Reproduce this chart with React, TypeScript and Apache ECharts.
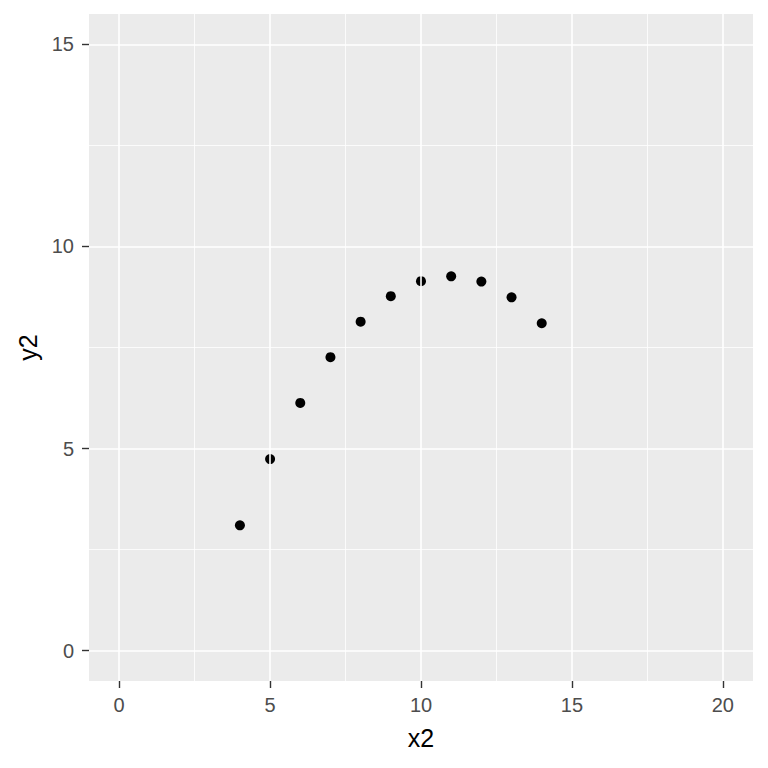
import React, { useEffect, useRef } from "react";
import * as echarts from "echarts";

const x2 = [10, 8, 13, 9, 11, 14, 6, 4, 12, 7, 5];
const y2 = [9.14, 8.14, 8.74, 8.77, 9.26, 8.1, 6.13, 3.1, 9.13, 7.26, 4.74];
const xMajor = [0, 5, 10, 15, 20];
const xMinor = [2.5, 7.5, 12.5, 17.5];
const yMajor = [0, 5, 10, 15];
const yMinor = [2.5, 7.5, 12.5];

export default function App() {
  const ref = useRef<HTMLDivElement>(null);
  useEffect(() => {
    const chart = echarts.init(ref.current!, null, { renderer: "svg" });
    const font = "Liberation Sans, Arial, sans-serif";
    const minorStyle = { color: "#FFFFFF", width: 0.8, type: "solid" as const };
    const majorStyle = { color: "#FFFFFF", width: 1.6, type: "solid" as const };
    chart.setOption({
      animation: false,
      backgroundColor: "#FFFFFF",
      grid: {
        left: 89,
        right: 15,
        top: 14,
        bottom: 87,
        show: true,
        backgroundColor: "#EBEBEB",
        borderWidth: 0,
      },
      xAxis: {
        type: "value",
        min: -1,
        max: 21,
        axisLine: { show: false, onZero: false },
        splitLine: { show: false },
        axisTick: {
          show: true,
          customValues: xMajor,
          length: 7,
          lineStyle: { color: "#333333", width: 1.4 },
        },
        axisLabel: {
          customValues: xMajor,
          color: "#4D4D4D",
          fontSize: 20,
          fontFamily: font,
          margin: 14,
        },
        name: "x2",
        nameLocation: "middle",
        nameGap: 44,
        nameTextStyle: { color: "#000000", fontSize: 25, fontFamily: font },
      },
      yAxis: {
        type: "value",
        min: -0.75,
        max: 15.75,
        axisLine: { show: false, onZero: false },
        splitLine: { show: false },
        axisTick: {
          show: true,
          customValues: yMajor,
          length: 7,
          lineStyle: { color: "#333333", width: 1.4 },
        },
        axisLabel: {
          customValues: yMajor,
          color: "#4D4D4D",
          fontSize: 20,
          fontFamily: font,
          margin: 15,
        },
        name: "y2",
        nameLocation: "middle",
        nameGap: 46,
        nameTextStyle: { color: "#000000", fontSize: 25, fontFamily: font },
      },
      series: [
        {
          type: "scatter",
          data: [],
          z: 1,
          silent: true,
          markLine: {
            silent: true,
            symbol: ["none", "none"],
            label: { show: false },
            animation: false,
            data: [
              ...xMinor.map((v) => ({ xAxis: v, lineStyle: minorStyle })),
              ...yMinor.map((v) => ({ yAxis: v, lineStyle: minorStyle })),
              ...xMajor.map((v) => ({ xAxis: v, lineStyle: majorStyle })),
              ...yMajor.map((v) => ({ yAxis: v, lineStyle: majorStyle })),
            ],
          },
        },
        {
          type: "scatter",
          z: 3,
          symbolSize: 10,
          itemStyle: { color: "#000000", opacity: 1 },
          data: x2.map((x, i) => [x, y2[i]]),
        },
      ],
    });
    return () => chart.dispose();
  }, []);
  return (
    <div
      ref={ref}
      style={{ position: "fixed", left: 0, top: 0, width: 768, height: 768 }}
    />
  );
}
